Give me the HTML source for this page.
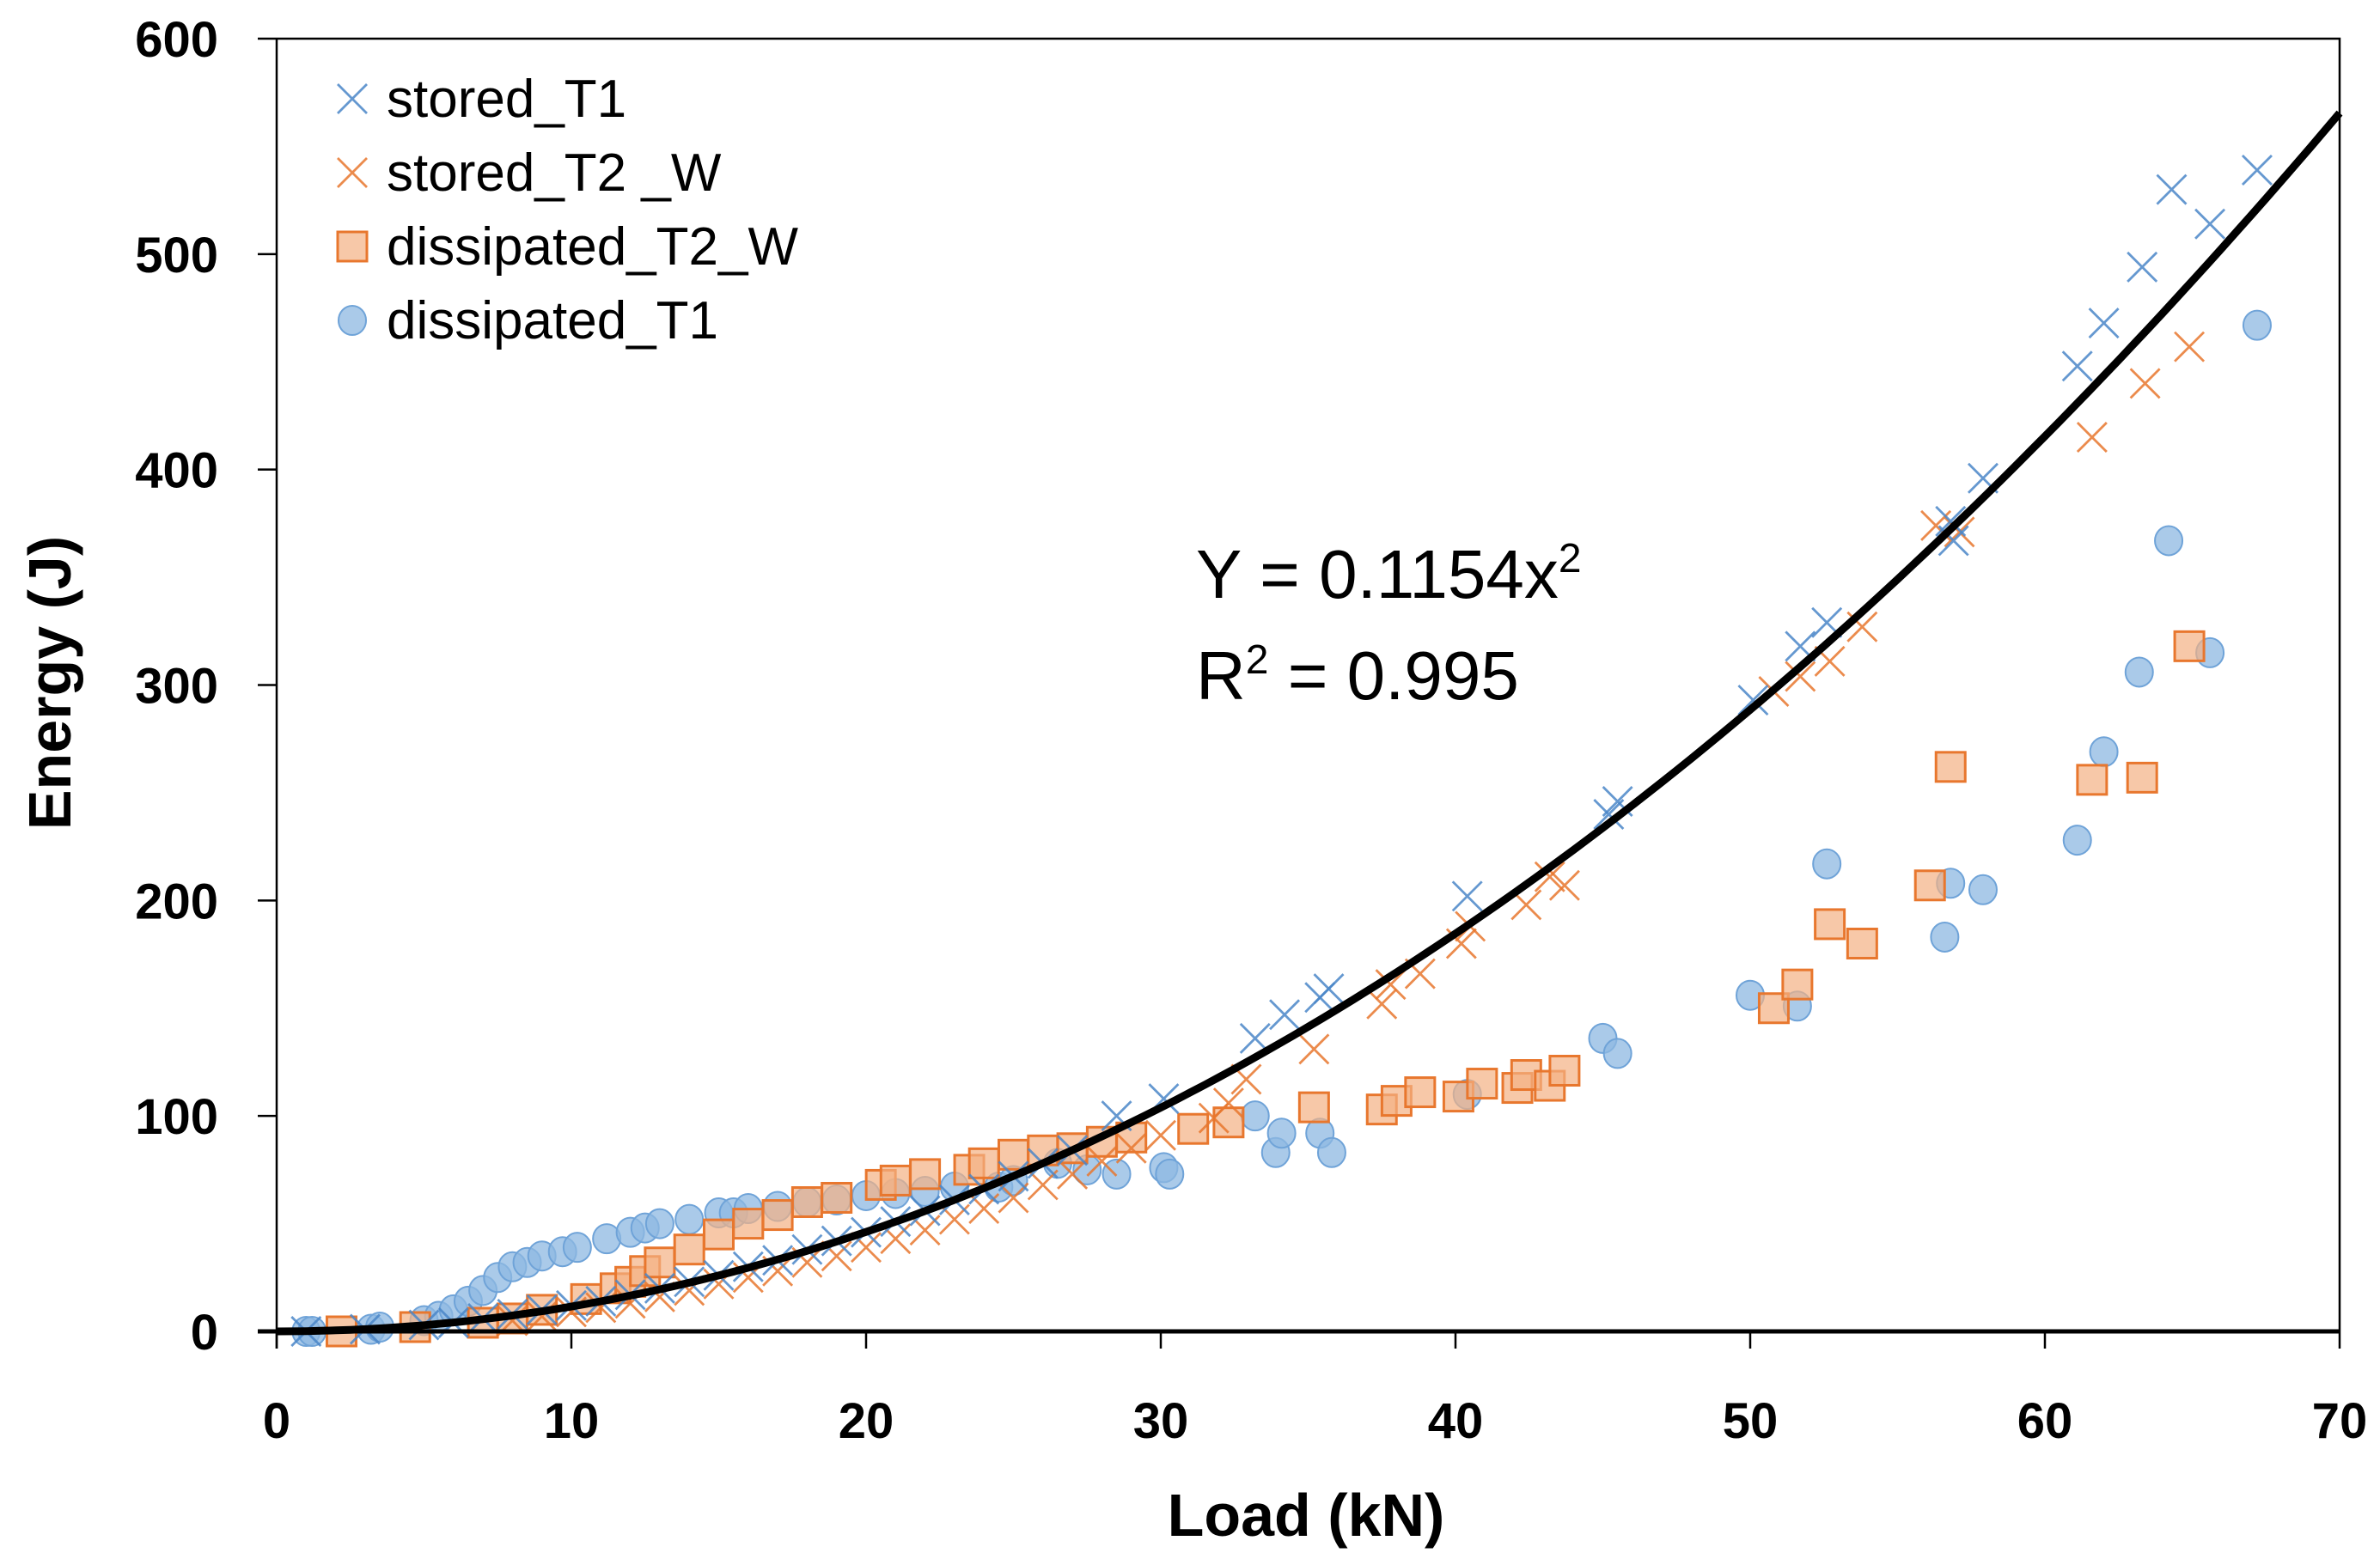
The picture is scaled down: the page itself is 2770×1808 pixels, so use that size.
<!DOCTYPE html>
<html><head><meta charset="utf-8"><style>
html,body{margin:0;padding:0;background:#fff;}
svg{display:block;font-family:"Liberation Sans",Arial,sans-serif;}
</style></head><body>
<svg id="chart" width="2770" height="1808" viewBox="0 0 2770 1808" xmlns="http://www.w3.org/2000/svg">
<rect x="0" y="0" width="2770" height="1808" fill="#fff"/>
<g id="grid"></g>
<g id="marks"></g>
<g id="axes"></g>
</svg>
<script>
const xTicks=[0,10,20,30,40,50,60,70];
const yTicks=[0,100,200,300,400,500,600];
const seriesNames=["stored_T1","stored_T2 _W","dissipated_T2_W","dissipated_T1"];
const fitCoef=0.1154;
const storedT1X=[1,3,5,6,7,8,9,10,11,12,13,14,15,16,17,18,19,20,21,22,23,24,25,26,27,28.5,30.1,33.2,34.2,35.4,35.7,40.4,45.2,45.5,50.1,51.7,52.6,56.8,56.9,57.9,61.1,62,63.3,64.3,65.6,67.2];
const storedT1Y=[0,1,3,4,6,8,10,12,14,17,20,23,26,30,33,38,42,46,51,56,61,66,72,78,84,100,108,136,147,155,159,202,240,246,293,318,329,376,367,396,448,468,494,530,514,539];
const storedT2X=[8,9,10,11,12,13,14,15,16,17,18,19,20,21,22,23,24,25,26,27,28,29,30,31.8,32.3,32.9,35.2,37.5,37.8,38.8,40.2,40.5,42.4,43.2,43.7,50.8,51.7,52.7,53.8,56.3,57.1,61.6,63.4,64.9];
const storedT2Y=[5,7,9,11,13,16,19,22,25,28,32,35,39,43,47,52,57,62,68,73,79,85,91,99,106,117,131,152,161,166,180,188,198,211,207,297,304,311,327,374,371,415,440,457];
const dissT2X=[2.2,4.7,7,8,9,10.5,11.5,12,12.5,13,14,15,16,17,18,19,20.5,21,22,23.5,24,25,26,27,28,29,31.1,32.3,35.2,37.5,38,38.8,40.1,40.9,42.1,42.4,43.2,43.7,50.8,51.6,52.7,53.8,56.1,56.8,61.6,63.3,64.9];
const dissT2Y=[0,2,4,6,10,15,20,23,28,32,38,45,50,54,60,62,68,70,73,75,78,82,84,85,88,90,94,97,104,103,107,111,109,115,113,119,114,121,150,161,189,180,207,262,256,257,318];
const dissT1X=[1,1.2,3.2,3.5,5,5.5,6,6.5,7,7.5,8,8.5,9,9.7,10.2,11.2,12,12.5,13,14,15,15.5,16,17,18,19,20,21,22,23,24.5,25,26.5,27.5,28.5,30.1,30.3,33.2,33.9,34.1,35.4,35.8,40.4,45,45.5,50,51.6,52.6,56.6,56.8,57.9,61.1,62,63.2,64.2,65.6,67.2];
const dissT1Y=[0,0,1,2,5,7,10,14,19,25,30,32,35,37,39,43,46,48,50,52,55,55,57,58,60,61,63,64,65,67,67,70,78,75,73,76,73,100,83,92,92,83,110,136,129,156,151,217,183,208,205,228,269,306,367,315,467];

const L=322,R=2723,T=45,B=1550;
const sx=v=>L+(v-0)/(70-0)*(R-L);
const sy=v=>B-(v-0)/(600-0)*(B-T);
const NS="http://www.w3.org/2000/svg";
function mk(tag,attrs,parent){const e=document.createElementNS(NS,tag);for(const k in attrs)e.setAttribute(k,attrs[k]);parent.appendChild(e);return e;}
const marks=document.getElementById('marks'), axes=document.getElementById('axes');
const BLUE="#4A86C8", ORANGE="#E8772E";
function cross(x,y,c,parent,name){const g=mk('g',{},parent);


const s=17;mk('path',{d:`M${x-s} ${y-s}L${x+s} ${y+s}M${x-s} ${y+s}L${x+s} ${y-s}`,stroke:c,'stroke-width':2.8,fill:'none','stroke-opacity':0.85},g);return g;}
function square(x,y,parent,name){const r=mk('rect',{x:x-17,y:y-17,width:34,height:34,fill:'#F4B183','fill-opacity':0.7,stroke:ORANGE,'stroke-width':3},parent);

return r;}
function circ(x,y,parent,name){const c=mk('ellipse',{cx:x,cy:y,rx:16,ry:17,fill:'#8DB8E2','fill-opacity':0.75,stroke:'#6FA3D8','stroke-width':2},parent);

return c;}

dissT1X.forEach((v,i)=>circ(sx(v),sy(dissT1Y[i]),marks,'dissipated-t1-point'));
dissT2X.forEach((v,i)=>square(sx(v),sy(dissT2Y[i]),marks,'dissipated-t2-w-point'));
storedT2X.forEach((v,i)=>cross(sx(v),sy(storedT2Y[i]),ORANGE,marks,'stored-t2-w-point'));
storedT1X.forEach((v,i)=>cross(sx(v),sy(storedT1Y[i]),BLUE,marks,'stored-t1-point'));

let d="";for(let i=0;i<=140;i++){const x=i*0.5;d+=(i?"L":"M")+sx(x).toFixed(1)+" "+sy(fitCoef*x*x).toFixed(1);}
const fit=mk('path',{d:d,stroke:'#000','stroke-width':9,fill:'none'},marks);



const frame=mk('path',{d:`M${L} ${T}H${R}V${B}`,stroke:'#000','stroke-width':2.5,fill:'none'},axes);


const yax=mk('line',{x1:L,y1:T,x2:L,y2:B+20,stroke:'#000','stroke-width':2.5},axes);


const xax=mk('line',{x1:L-22,y1:B,x2:R,y2:B,stroke:'#000','stroke-width':5},axes);


xTicks.forEach(v=>{const x=sx(v);
const t=mk('line',{x1:x,y1:B,x2:x,y2:B+20,stroke:'#000','stroke-width':2.5},axes);


const tx=mk('text',{x:x,y:1674,'font-size':58,'font-weight':'bold','text-anchor':'middle'},axes);tx.textContent=v;

});
yTicks.forEach(v=>{const y=sy(v);
const t=mk('line',{x1:L-22,y1:y,x2:L,y2:y,stroke:'#000','stroke-width':2.5},axes);


const tx=mk('text',{x:254,y:y+21,'font-size':58,'font-weight':'bold','text-anchor':'end'},axes);tx.textContent=v;

});
const xt=mk('text',{x:1520,y:1788,'font-size':70,'font-weight':'bold','text-anchor':'middle'},axes);xt.textContent="Load (kN)";


const yt=mk('text',{x:0,y:0,'font-size':70,'font-weight':'bold','text-anchor':'middle',transform:'translate(82,795) rotate(-90)'},axes);yt.textContent="Energy (J)";



const eq1=mk('text',{x:1392,y:696,'font-size':80},axes);eq1.innerHTML='Y = 0.1154x<tspan dy="-30" font-size="48">2</tspan>';


const eq2=mk('text',{x:1392,y:814,'font-size':80},axes);eq2.innerHTML='R<tspan dy="-30" font-size="48">2</tspan><tspan dy="30"> = 0.995</tspan>';



const lg=mk('g',{},axes);


const ly=[115,201,287,373];
cross(410,ly[0],BLUE,lg,'legend-marker-stored-t1');
cross(410,ly[1],ORANGE,lg,'legend-marker-stored-t2-w');
square(410,ly[2],lg,'legend-marker-dissipated-t2-w');
circ(410,ly[3],lg,'legend-marker-dissipated-t1');
seriesNames.forEach((n,i)=>{const t=mk('text',{x:450,y:ly[i]+21,'font-size':62},lg);t.textContent=n;

});
</script>
</body></html>
